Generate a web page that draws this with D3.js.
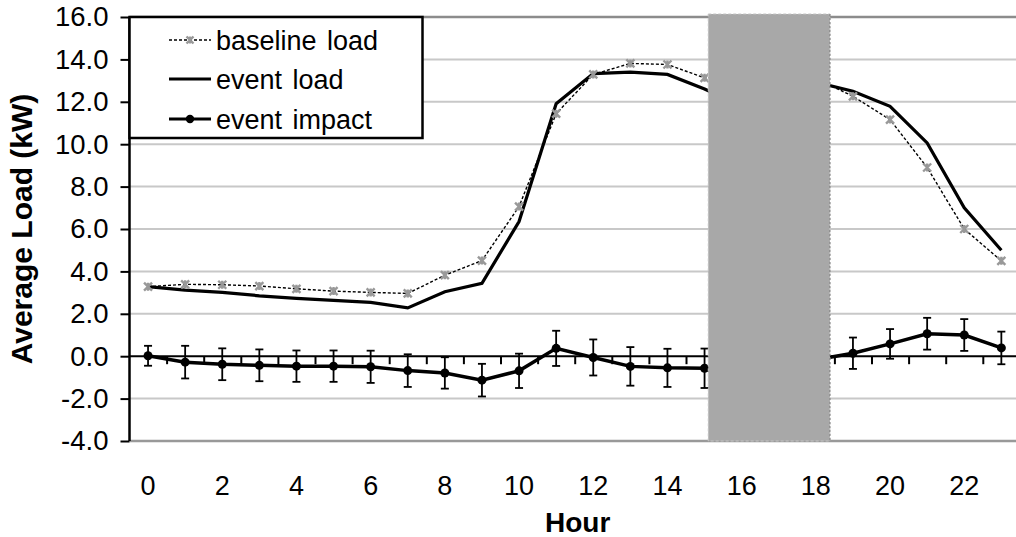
<!DOCTYPE html>
<html><head><meta charset="utf-8">
<script src="https://cdn.jsdelivr.net/npm/d3@7"></script>
<style>
html,body{margin:0;padding:0;background:#fff;}
svg{display:block;font-family:"Liberation Sans",Arial,sans-serif;}
</style></head>
<body>
<svg id="chart" width="1016" height="537"></svg>
<script>
// ---- data ----
const hours = d3.range(0, 24);
const xTickLabels = ["0","2","4","6","8","10","12","14","16","18","20","22"];
const yTickValues = [-4, -2, 0, 2, 4, 6, 8, 10, 12, 14, 16];
const baselineLoad = [3.28, 3.39, 3.37, 3.31, 3.18, 3.07, 3.01, 2.96, 3.82, 4.51, 7.06, 11.44, 13.29, 13.81, 13.76, 13.13, 13.1, 13.1, 13.1, 12.26, 11.16, 8.9, 6.0, 4.5];
const eventLoad    = [3.28, 3.12, 3.01, 2.85, 2.73, 2.63, 2.54, 2.28, 3.04, 3.44, 6.35, 11.91, 13.33, 13.4, 13.29, 12.6, 11.8, 12.2, 12.93, 12.5, 11.79, 10.06, 7.0, 5.0];
const eventImpact  = [0.02, -0.28, -0.38, -0.43, -0.47, -0.47, -0.5, -0.68, -0.79, -1.13, -0.69, 0.37, -0.06, -0.48, -0.55, -0.57, -1.3, -0.9, -0.17, 0.14, 0.58, 1.06, 1.0, 0.39];
const impactErr    = [0.47, 0.77, 0.75, 0.75, 0.74, 0.74, 0.76, 0.77, 0.74, 0.77, 0.81, 0.83, 0.85, 0.91, 0.9, 0.93, 0.9, 0.9, 0.8, 0.74, 0.7, 0.75, 0.75, 0.77];
const eventWindow = [15.1, 18.38];
const legendLabels = ["baseline load", "event load", "event impact"];

// ---- layout ----
const svg = d3.select("#chart");
const left = 129.5, band = 37.1;
const x = d3.scaleLinear().domain([-0.5, 23.5]).range([left, left + 24 * band]);
const y = d3.scaleLinear().domain([-4, 16]).range([441, 17]);

// gridlines
svg.append("g").selectAll("line").data(yTickValues.filter(v => v !== 0 && v !== 16 && v !== -4)).join("line")
  .attr("x1", left).attr("x2", 1016).attr("y1", d => y(d)).attr("y2", d => y(d))
  .attr("stroke", "#c8c8c8").attr("stroke-width", 2);
// top and bottom border lines
svg.append("line").attr("x1", left).attr("x2", 1016).attr("y1", y(16)).attr("y2", y(16))
  .attr("stroke", "#8c8c8c").attr("stroke-width", 2.5);
svg.append("line").attr("x1", left).attr("x2", 1016).attr("y1", y(-4)).attr("y2", y(-4))
  .attr("stroke", "#999").attr("stroke-width", 2.5);

// x axis at zero with ticks between categories
const xAxis = d3.axisBottom(x).tickValues(d3.range(0.5, 23.5, 1)).tickSize(8).tickFormat("");
const gx = svg.append("g").attr("transform", `translate(0,${y(0)})`).call(xAxis);
gx.select(".domain").attr("stroke", "#000").attr("stroke-width", 2).attr("d", `M${left},0H1016`);
gx.selectAll(".tick line").attr("stroke", "#000").attr("stroke-width", 2);

// x tick labels
svg.append("g").selectAll("text").data(xTickLabels).join("text")
  .attr("x", d => x(+d)).attr("y", 495)
  .attr("text-anchor", "middle").attr("font-size", 27).attr("fill", "#000")
  .text(d => d);

// y axis
const yAxis = d3.axisLeft(y).tickValues(yTickValues).tickSize(9).tickPadding(12).tickFormat(d3.format(".1f"));
const gy = svg.append("g").attr("transform", `translate(${left},0)`).call(yAxis);
gy.select(".domain").attr("stroke", "#000").attr("stroke-width", 2.5).attr("d", `M0,${y(16)}V${y(-4)}`);
gy.selectAll(".tick line").attr("stroke", "#000").attr("stroke-width", 2);
gy.selectAll(".tick text").attr("font-size", 27.5).attr("fill", "#000")
  .attr("font-family", "'Liberation Sans',Arial,sans-serif")
  .text(d => d3.format(".1f")(d).replace("−", "-"));

// axis titles
svg.append("text").attr("transform", `translate(32,${(y(16)+y(-4))/2}) rotate(-90)`)
  .attr("text-anchor", "middle").attr("font-size", 30).attr("font-weight", "bold").text("Average Load (kW)");
svg.append("text").attr("x", x(11.5)+3).attr("y", 532).attr("text-anchor", "middle")
  .attr("font-size", 28).attr("font-weight", "bold").text("Hour");

// lines
const line = d3.line().x((d, i) => x(i)).y(d => y(d));
svg.append("path").datum(baselineLoad).attr("d", line).attr("fill", "none")
  .attr("stroke", "#000").attr("stroke-width", 1.4).attr("stroke-dasharray", "3,2");
svg.append("path").datum(eventLoad).attr("d", line).attr("fill", "none")
  .attr("stroke", "#000").attr("stroke-width", 3.2);

function star(g, cx, cy, s) {
  g.append("path").attr("d", `M${cx-s},${cy-s}L${cx+s},${cy+s}M${cx-s},${cy+s}L${cx+s},${cy-s}M${cx},${cy-s}L${cx},${cy+s}`)
    .attr("stroke", "#999").attr("stroke-width", 2.4).attr("fill", "none");
}
const gm = svg.append("g");
baselineLoad.forEach((v, i) => star(gm, x(i), y(v), 4));

// error bars
const ge = svg.append("g").attr("stroke", "#000").attr("stroke-width", 1.8);
eventImpact.forEach((v, i) => {
  const x0 = x(i), yt = y(v + impactErr[i]), yb = y(v - impactErr[i]);
  ge.append("line").attr("x1", x0).attr("x2", x0).attr("y1", yt).attr("y2", yb);
  ge.append("line").attr("x1", x0-4).attr("x2", x0+4).attr("y1", yt).attr("y2", yt);
  ge.append("line").attr("x1", x0-4).attr("x2", x0+4).attr("y1", yb).attr("y2", yb);
});
svg.append("path").datum(eventImpact).attr("d", line).attr("fill", "none")
  .attr("stroke", "#000").attr("stroke-width", 3.5);
svg.append("g").selectAll("circle").data(eventImpact).join("circle")
  .attr("cx", (d, i) => x(i)).attr("cy", d => y(d)).attr("r", 4.5).attr("fill", "#000");

// event window box
svg.append("rect").attr("x", x(eventWindow[0])).attr("y", 14)
  .attr("width", x(eventWindow[1]) - x(eventWindow[0])).attr("height", y(-4) - 14)
  .attr("fill", "#a8a8a8").attr("stroke", "#c4c4c4").attr("stroke-width", 1).attr("stroke-dasharray", "3,2");
svg.append("line").attr("x1", x(eventWindow[1])).attr("x2", x(eventWindow[1])).attr("y1", 14).attr("y2", y(-4))
  .attr("stroke", "#7a7a7a").attr("stroke-width", 1).attr("stroke-dasharray", "2,2");

// legend
const lg = svg.append("g");
lg.append("rect").attr("x", left).attr("y", y(16)).attr("width", 293).attr("height", 121)
  .attr("fill", "#fff").attr("stroke", "#000").attr("stroke-width", 2.5);
const rowsY = [40, 79, 119];
legendLabels.forEach((lab, i) => {
  const ly = rowsY[i];
  const l = lg.append("line").attr("x1", 169).attr("x2", 211).attr("y1", ly).attr("y2", ly).attr("stroke", "#000");
  if (i === 0) { l.attr("stroke-width", 1.4).attr("stroke-dasharray", "3,2"); star(lg, 190, ly, 3.5); }
  else l.attr("stroke-width", 3.2);
  if (i === 2) lg.append("circle").attr("cx", 190).attr("cy", ly).attr("r", 4.2).attr("fill", "#000");
  lg.append("text").attr("x", 216).attr("y", ly + 9.5).attr("font-size", 27).attr("word-spacing", 3).attr("fill", "#000").text(lab);
});
</script>
</body></html>
